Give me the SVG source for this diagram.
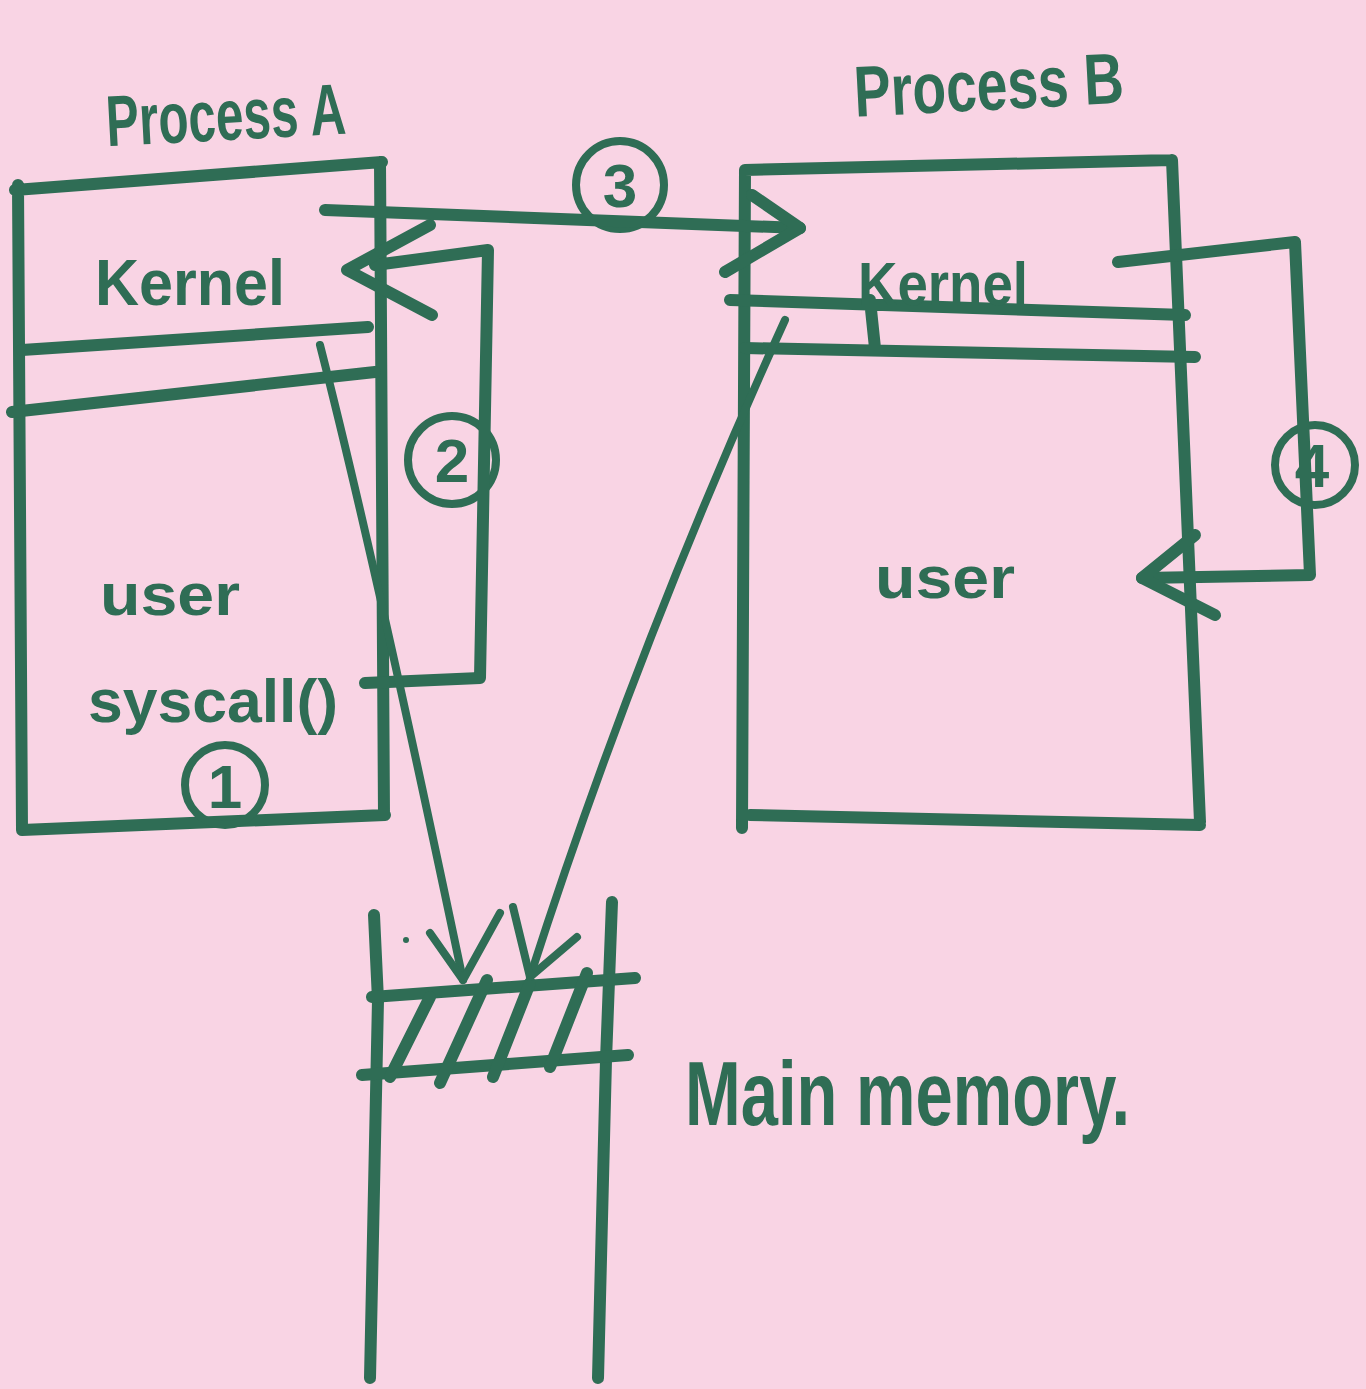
<svg xmlns="http://www.w3.org/2000/svg" width="1366" height="1389" viewBox="0 0 1366 1389">
<style>
.ink{fill:none;stroke:#2f6d55;stroke-width:12;stroke-linecap:round;stroke-linejoin:round}
.thin{fill:none;stroke:#2f6d55;stroke-width:8;stroke-linecap:round;stroke-linejoin:round}
.t{fill:#2f6d55;font-family:"Liberation Sans",Arial,sans-serif;font-weight:bold}
</style>
<rect width="1366" height="1389" fill="#f9d4e4"/>
<g id="processA">
<text class="t" x="105" y="140" font-size="72" textLength="240" lengthAdjust="spacingAndGlyphs" transform="rotate(-3 225 100)">Process A</text>
<path class="ink" d="M15 190 L382 162 M18 185 L22 830 M22 830 L385 815 M380 162 L384 815"/>
<path class="ink" d="M22 350 L368 327 M12 412 L375 372"/>
<text class="t" x="95" y="305" font-size="64" textLength="190" lengthAdjust="spacingAndGlyphs">Kernel</text>
<text class="t" x="100" y="615" font-size="60" textLength="140" lengthAdjust="spacingAndGlyphs">user</text>
<text class="t" x="88" y="722" font-size="62" textLength="250" lengthAdjust="spacingAndGlyphs">syscall()</text>
</g>
<g id="processB">
<text class="t" x="853" y="110" font-size="72" textLength="270" lengthAdjust="spacingAndGlyphs" transform="rotate(-3 985 70)">Process B</text>
<path class="ink" d="M745 170 L1172 160 M745 170 L742 828 M750 815 L1200 825 M1172 160 L1200 822"/>
<path class="ink" d="M730 300 L1185 315 M745 348 L1195 357 M870 300 L875 348"/>
<text class="t" x="858" y="305" font-size="62" textLength="170" lengthAdjust="spacingAndGlyphs">Kernel</text>
<text class="t" x="875" y="598" font-size="60" textLength="140" lengthAdjust="spacingAndGlyphs">user</text>
</g>
<g id="memory">
<path class="ink" d="M374 915 L378 1000 L370 1378 M612 902 L606 1060 L598 1378"/>
<path class="ink" d="M372 997 L635 978 M362 1075 L628 1055"/>
<path class="ink" d="M430 997 L390 1077 M487 980 L440 1083 M530 983 L493 1077 M587 973 L550 1067"/>
<circle cx="406" cy="940" r="3" fill="#2f6d55"/>
<text class="t" x="685" y="1125" font-size="90" textLength="445" lengthAdjust="spacingAndGlyphs">Main memory.</text>
</g>
<g id="labels">
<circle class="thin" cx="225" cy="785" r="40"/>
<text class="t" x="225" y="808" font-size="62" text-anchor="middle">1</text>
<circle class="thin" cx="452" cy="460" r="44"/>
<text class="t" x="452" y="482" font-size="62" text-anchor="middle">2</text>
<circle class="thin" cx="620" cy="185" r="44"/>
<text class="t" x="620" y="207" font-size="62" text-anchor="middle">3</text>
<circle class="thin" cx="1315" cy="465" r="40"/>
<text class="t" x="1312" y="487" font-size="62" text-anchor="middle">4</text>
</g>
<g id="connectors">
<path class="ink" d="M365 683 L480 678 L488 250 L375 265"/>
<path class="ink" d="M430 225 L347 270 L432 315"/>
<path class="ink" d="M325 210 L800 228"/>
<path class="ink" d="M752 195 L800 228 L725 272"/>
<path class="ink" d="M1118 262 L1295 242 L1310 575 L1142 578"/>
<path class="ink" d="M1195 535 L1142 578 L1215 615"/>
<path class="thin" d="M320 345 Q375 560 463 980"/>
<path class="thin" d="M430 933 L463 980 L500 913"/>
<path class="thin" d="M785 320 Q635 650 530 977"/>
<path class="thin" d="M513 907 L530 977 L577 937"/>
</g>
</svg>
